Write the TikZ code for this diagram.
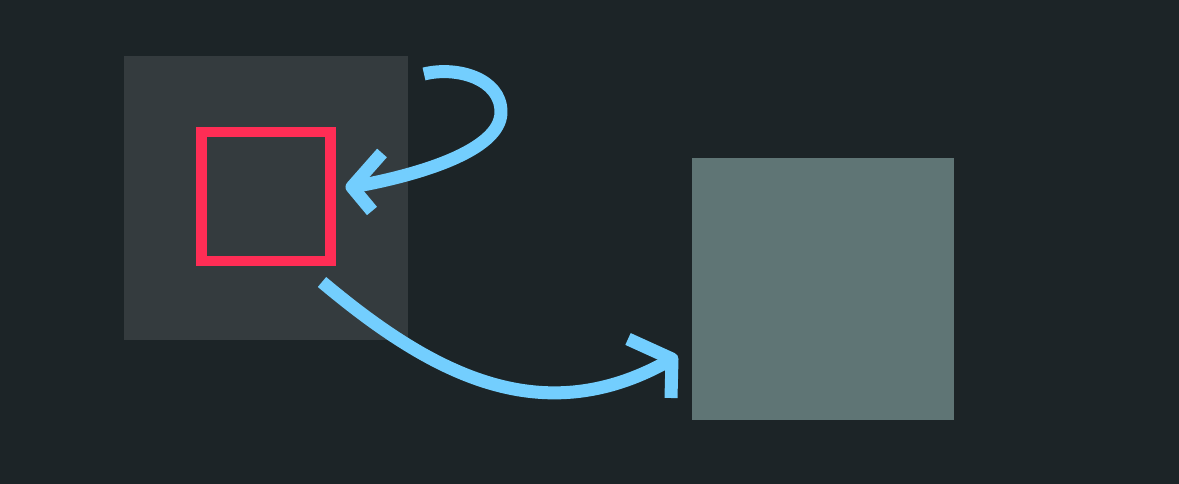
\documentclass[tikz,border=0pt]{standalone}
\usetikzlibrary{positioning}
\definecolor{backdrop}{HTML}{1C2427}
\definecolor{panelcol}{HTML}{343B3E}
\definecolor{focuscol}{HTML}{FF2D55}
\definecolor{pointercol}{HTML}{73CEFE}
\definecolor{targetcol}{HTML}{5F7575}
\begin{document}
\begin{tikzpicture}[
    x=1pt, y=1pt,
    tile/.style={inner sep=0pt, outer sep=0pt, minimum size=#1},
    pointer/.style={pointercol, line width=13pt, line join=round}
]
    \fill[backdrop] (0,0) rectangle (1179,484);
    \useasboundingbox (0,0) rectangle (1179,484);
    \node[tile=284pt, fill=panelcol] (panel) at (266,286) {};
    \node[tile=129pt, draw=focuscol, line width=10.5pt] (focus) at (266,287.5) {};
    \node[tile=262pt, fill=targetcol] (target) at (823,195) {};
    % loop back into the red box
    \coordinate (loopstart) at (424,410);
    \coordinate (loopturn) at (501,372);
    \coordinate (looptip) at (352,297);
    \coordinate (looparmA) at (382,331);
    \coordinate (looparmB) at (372,273);
    \draw[pointer] (loopstart) to[out=14,in=90] (loopturn)
        to[out=-90,in=10,out looseness=0.6] (looptip);
    \draw[pointer] (looparmA) -- (looptip) -- (looparmB);
    % sweep over to the target
    \coordinate (sweepstart) at (322,202);
    \coordinate (sweeptip) at (672,125);
    \coordinate (sweeparmA) at (628,145);
    \coordinate (sweeparmB) at (671,86);
    \draw[pointer] (sweepstart) to[out=-40,in=210,looseness=1.05] (sweeptip);
    \draw[pointer] (sweeparmA) -- (sweeptip) -- (sweeparmB);
\end{tikzpicture}
\end{document}
